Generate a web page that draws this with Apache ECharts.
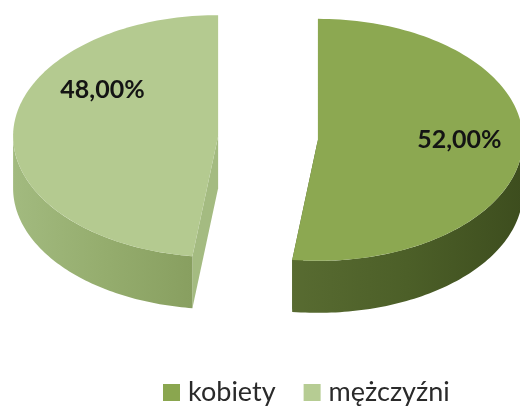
<!DOCTYPE html>
<html>
<head>
<meta charset="utf-8">
<script src="https://cdn.jsdelivr.net/npm/echarts@6/dist/echarts.min.js"></script>
<style>
html, body { margin: 0; padding: 0; background: #fff; }
#chart { width: 520px; height: 414px; }
</style>
</head>
<body>
<div id="chart"></div>
<script>
// data
const categories = ["kobiety", "mężczyźni"];
const shares = [52.00, 48.00];

// look of the 3d pie
const CX = 268, CY = 138, RX = 205, RY = 121, DEPTH = 52, EXPLODE = 50;
const START = 90;
const topColors = ["#8ca851", "#b4ca90"];
const legendColors = ["#8aa64f", "#b6cc93"];
const cutColors = ["#4a5c26", "#a4bb81"];
const sideStops = [
    ["#586b31", "#4c5f28", "#3d4d1e"],
    ["#a2ba7f", "#95ad6e", "#889f60"]
];
const labelSpots = [[0.69, 0], [0.68, 146]];

const total = shares.reduce((s, v) => s + v, 0);
let acc = START;
const spans = shares.map(v => {
    const a1 = acc;
    const a0 = acc - v / total * 360;
    acc = a0;
    return [a0, a1];
});

function fmt(v) {
    return v.toFixed(2).replace(".", ",") + "%";
}

function renderSlice(params, api) {

    const i = params.seriesIndex;
    const [a0, a1] = spans[i];
    const mid = (a0 + a1) / 2 * Math.PI / 180;
    const ox = EXPLODE * Math.cos(mid);
    const oy = -EXPLODE * RY / RX * Math.sin(mid);
    const c = [CX + ox, CY + oy];

    const pt = (deg, dz) => {
        const t = deg * Math.PI / 180;
        return [c[0] + RX * Math.cos(t), c[1] - RY * Math.sin(t) + dz];
    };

    const children = [];

    // radial cut faces
    [a0, a1].forEach(a => {
        const p = pt(a, 0);
        children.push({
            type: "polygon",
            shape: { points: [c, p, [p[0], p[1] + DEPTH], [c[0], c[1] + DEPTH]] },
            style: { fill: cutColors[i] }
        });
    });

    // front part of the outer wall
    for (let k = -1; k <= 1; k++) {
        const lo = Math.max(a0, -180 + 360 * k);
        const hi = Math.min(a1, 360 * k);
        if (hi <= lo) continue;
        const top = [], bot = [];
        for (let s = 0; s <= 80; s++) {
            const a = lo + (hi - lo) * s / 80;
            top.push(pt(a, 0));
            bot.push(pt(a, DEPTH));
        }
        const st = sideStops[i];
        children.push({
            type: "polygon",
            shape: { points: top.concat(bot.reverse()) },
            style: {
                fill: new echarts.graphic.LinearGradient(0, 0, 1, 0, [
                    { offset: 0, color: st[0] },
                    { offset: 0.5, color: st[1] },
                    { offset: 1, color: st[2] }
                ])
            }
        });
    }

    // top face
    const face = [c];
    for (let s = 0; s <= 120; s++) {
        face.push(pt(a0 + (a1 - a0) * s / 120, 0));
    }
    children.push({
        type: "polygon",
        shape: { points: face },
        style: { fill: topColors[i] }
    });

    // value label
    const [lr, la] = labelSpots[i];
    const t = la * Math.PI / 180;
    children.push({
        type: "text",
        x: c[0] + lr * RX * Math.cos(t),
        y: c[1] - lr * RY * Math.sin(t),
        style: {
            text: fmt(api.value(0)),
            fontFamily: "Lato",
            fontWeight: "bold",
            fontSize: 25,
            fill: "#141414",
            align: "center",
            verticalAlign: "middle"
        }
    });

    return { type: "group", children };
}

const chart = echarts.init(document.getElementById("chart"));

chart.setOption({
    animation: false,
    legend: {
        data: categories,
        left: 158,
        top: 374,
        icon: "rect",
        itemWidth: 17,
        itemHeight: 17,
        itemGap: 28,
        textStyle: {
            fontFamily: "Lato",
            fontSize: 27,
            color: "#2a2a2a",
            padding: [0, 0, 0, 3]
        }
    },
    series: categories.map((name, i) => ({
        name: name,
        type: "custom",
        coordinateSystem: "none",
        silent: true,
        renderItem: renderSlice,
        itemStyle: { color: legendColors[i] },
        data: [[shares[i]]]
    }))
});
</script>
</body>
</html>
